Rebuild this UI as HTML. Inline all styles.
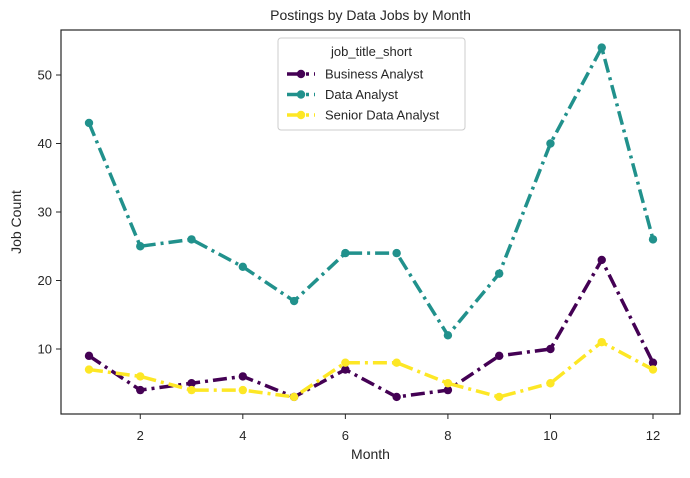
<!DOCTYPE html>
<html><head><meta charset="utf-8"><style>
body{margin:0;background:#fff;font-family:"Liberation Sans","DejaVu Sans",sans-serif;}
svg text{font-family:"Liberation Sans","DejaVu Sans",sans-serif;fill:#262626;}
</style></head><body>
<svg id="chart" width="690" height="473">
</svg>
<script>
const months=[1,2,3,4,5,6,7,8,9,10,11,12];
const businessAnalyst=[9,4,5,6,3,7,3,4,9,10,23,8];
const dataAnalyst=[43,25,26,22,17,24,24,12,21,40,54,26];
const seniorDataAnalyst=[7,6,4,4,3,8,8,5,3,5,11,7];
const xTicks=[2,4,6,8,10,12];
const yTicks=[10,20,30,40,50];
const seriesNames=["Business Analyst","Data Analyst","Senior Data Analyst"];
const colors=["#440154","#21918c","#fde725"];
const L=61,R=680,T=30,B=414;
const xs=m=>89+(m-1)*(653-89)/11;
const ys=v=>417.5-v*6.85;
const svg=document.getElementById('chart');
const NS="http://www.w3.org/2000/svg";
function mk(tag,attrs,parent){const e=document.createElementNS(NS,tag);for(const k in attrs)e.setAttribute(k,attrs[k]);(parent||svg).appendChild(e);return e;}
let e;
e=mk('rect',{x:L,y:T,width:R-L,height:B-T,fill:'#fff',stroke:'#262626','stroke-width':1.2});

xTicks.forEach(t=>{const x=xs(t);
e=mk('line',{x1:x,x2:x,y1:B,y2:B+5,stroke:'#262626'});
e=mk('text',{x:x,y:B+26,'text-anchor':'middle','font-size':13});e.textContent=t;});
yTicks.forEach(t=>{const y=ys(t);
e=mk('line',{x1:L-5,x2:L,y1:y,y2:y,stroke:'#262626'});
e=mk('text',{x:L-9,y:y+4.5,'text-anchor':'end','font-size':13});e.textContent=t;});
e=mk('text',{x:(L+R)/2,y:20,'text-anchor':'middle','font-size':14});e.textContent='Postings by Data Jobs by Month';
e=mk('text',{x:(L+R)/2,y:459,'text-anchor':'middle','font-size':14});e.textContent='Month';
e=mk('text',{x:21,y:(T+B)/2,'text-anchor':'middle','font-size':14,transform:`rotate(-90 21 ${(T+B)/2})`});e.textContent='Job Count';
[businessAnalyst,dataAnalyst,seniorDataAnalyst].forEach((s,i)=>{
const g=mk('g',{});
e=mk('polyline',{points:s.map((v,j)=>xs(months[j])+','+ys(v)).join(' '),fill:'none',stroke:colors[i],'stroke-width':3.5,'stroke-dasharray':'14 5 3 5'},g);

s.forEach((v,j)=>{e=mk('circle',{cx:xs(months[j]),cy:ys(v),r:4.2,fill:colors[i]},g);});
});
const lg=mk('g',{});
e=mk('rect',{x:278,y:38,width:187,height:92,rx:3,fill:'#fff','fill-opacity':0.8,stroke:'#ccc'},lg);
e=mk('text',{x:371.5,y:56,'text-anchor':'middle','font-size':13},lg);e.textContent='job_title_short';
seriesNames.forEach((n,i)=>{const y=74+i*20.5;
const eg=mk('g',{},lg);
mk('line',{x1:287,x2:315,y1:y,y2:y,stroke:colors[i],'stroke-width':3.5,'stroke-dasharray':'14 5 3 5'},eg);
mk('circle',{cx:301,cy:y,r:4.2,fill:colors[i]},eg);
const t=mk('text',{x:325,y:y+4.5,'font-size':13},eg);t.textContent=n;});
</script>
</body></html>
